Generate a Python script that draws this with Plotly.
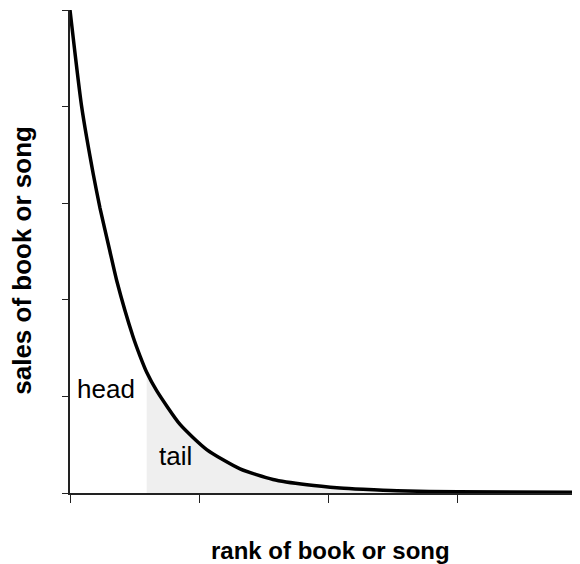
import plotly.graph_objects as go

# Curve (rank in arbitrary units, sales in arbitrary units)
rank = [0.0, 0.09, 0.18, 0.232, 0.309, 0.361, 0.487, 0.541, 0.593, 0.67,
        0.851, 1.057, 1.315, 1.57, 1.833, 2.088, 2.266, 2.529, 3.0, 3.944]
sales = [5.0, 4.0, 3.30, 2.95, 2.50, 2.20, 1.62, 1.42, 1.25, 1.06,
         0.71, 0.45, 0.25, 0.14, 0.085, 0.052, 0.038, 0.022, 0.012, 0.008]
head_end = 0.593
x_ticks = [0, 1, 2, 3]
y_ticks = [0, 1, 2, 3, 4, 5]

tail_rank = [r for r in rank if r >= head_end]
tail_sales = [s for r, s in zip(rank, sales) if r >= head_end]

FONT = "Liberation Sans, Arial"

fig = go.Figure()
fig.add_trace(go.Scatter(x=tail_rank, y=tail_sales, mode="lines", fill="tozeroy",
                         fillcolor="#efefef", line=dict(width=0, shape="spline"),
                         hoverinfo="skip", showlegend=False))
fig.add_trace(go.Scatter(x=rank, y=sales, mode="lines",
                         line=dict(color="black", width=3.5, shape="spline", smoothing=0.6),
                         showlegend=False))

fig.add_annotation(x=0.28, y=1.08, text="head", showarrow=False, xref="x", yref="y",
                   font=dict(family=FONT, size=26, color="black"))
fig.add_annotation(x=0.815, y=0.38, text="tail", showarrow=False, xref="x", yref="y",
                   font=dict(family=FONT, size=26, color="black"))

fig.add_annotation(x=0.51, y=-0.12, xref="paper", yref="paper", showarrow=False,
                   text="<b>rank of book or song</b>", xanchor="center", yanchor="middle",
                   font=dict(family=FONT, size=24, color="black"))
fig.add_annotation(x=-0.093, y=0.482, xref="paper", yref="paper", showarrow=False,
                   text="<b>sales of book or song</b>", textangle=-90,
                   xanchor="center", yanchor="middle",
                   font=dict(family=FONT, size=26, color="black"))

# page body has an 8px margin, so the figure is sized/offset to land on the 580x564 window
fig.update_layout(
    width=572, height=556,
    margin=dict(l=62, r=0, t=2, b=71, autoexpand=False),
    plot_bgcolor="white", paper_bgcolor="white",
    font=dict(family=FONT, color="black"),
    xaxis=dict(range=[0, 3.944], tickvals=x_ticks, showticklabels=False, automargin=False,
               ticks="outside", ticklen=8, tickcolor="#222", showgrid=False, zeroline=False,
               showline=True, linecolor="#222", linewidth=1.5),
    yaxis=dict(range=[0, 5], tickvals=y_ticks, showticklabels=False, automargin=False,
               ticks="outside", ticklen=6, tickcolor="#222", showgrid=False, zeroline=False,
               showline=True, linecolor="#222", linewidth=1.5),
)
fig.write_html("out.html")
